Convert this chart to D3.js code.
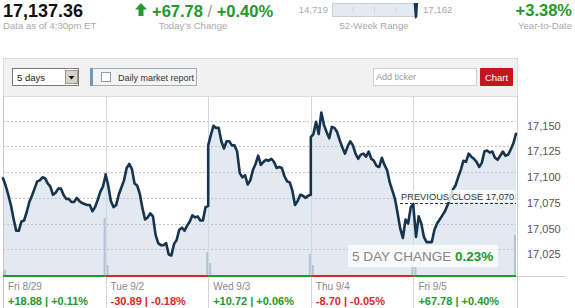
<!DOCTYPE html>
<html>
<head>
<meta charset="utf-8">
<script src="https://cdn.jsdelivr.net/npm/d3@7"></script>
<style>
  body { margin: 0; background: #fff; }
  svg text { font-family: "Liberation Sans", Arial, sans-serif; }
</style>
</head>
<body>
<div id="chart"></div>
<script>
// ---- data ----
const days = ["Fri 8/29", "Tue 9/2", "Wed 9/3", "Thu 9/4", "Fri 9/5"];
const dayChange = [18.88, -30.89, 10.72, -8.70, 67.78];
const dayPct = [0.11, -0.18, 0.06, -0.05, 0.40];

// index level, 10-minute steps through each session
const day1 = [17094,17087,17078,17068,17055,17043,17043,17052,17053,17061,17071,17077,17084,17091,17092,17095,17094,17089,17086,17078,
              17080,17084,17084,17078,17074,17074,17071,17071,17075,17072,17070,17069,17068,17068,17062,17066,17073,17081,17086,17097];
const day2 = [17098,17087,17072,17066,17068,17078,17085,17092,17104,17108,17103,17089,17087,17079,17065,17054,17056,17060,17057,17039,
              17031,17029,17029,17031,17020,17019,17030,17034,17044,17046,17043,17048,17052,17058,17056,17057,17053,17053,17066,17067];
const day3 = [17126,17136,17145,17143,17143,17130,17123,17130,17130,17126,17126,17120,17099,17095,17097,17088,17092,17102,17108,17116,
              17107,17110,17112,17111,17113,17110,17104,17105,17104,17096,17091,17090,17082,17068,17072,17078,17077,17075,17077,17078];
const day4 = [17134,17137,17149,17137,17158,17146,17139,17133,17144,17143,17139,17131,17124,17118,17125,17130,17126,17118,17113,17117,
              17118,17115,17120,17113,17111,17106,17105,17114,17107,17102,17090,17082,17074,17060,17045,17036,17054,17050,17066,17069];
const day5 = [17066,17037,17057,17050,17037,17032,17032,17032,17044,17050,17054,17058,17062,17068,17075,17083,17087,17095,17102,17111,
              17110,17118,17115,17113,17110,17105,17109,17120,17121,17119,17120,17114,17112,17116,17120,17116,17117,17122,17128,17137.36];
const sessions = [day1, day2, day3, day4, day5];

// opening / closing bar volume (relative)
const openVolume = [5, 10, 12, 10, 8];
const closeVolume = [57, 23, 21, 10, 40];

const yTicks = [17025, 17050, 17075, 17100, 17125, 17150];
const previousClose = 17070;
const fiveDayChange = 0.23;

const lastPrice = 17137.36;
const todayChange = 67.78;
const todayPct = 0.40;
const weekLow = 14719, weekHigh = 17162;
const ytdPct = 3.38;

// ---- setup ----
const width = 575, height = 308;
const plotLeft = 3, plotRight = 516, plotTop = 96, plotBottom = 275;
const green = "#22992a", red = "#d9262b";

const svg = d3.select("#chart").append("svg")
    .attr("width", width)
    .attr("height", height);

// scales
const x = d3.scaleBand().domain(days).range([plotLeft, plotRight]).paddingInner(0).paddingOuter(0);
const y = d3.scaleLinear().domain([17000, 17175]).range([275, 95]);
const vol = d3.scaleLinear().domain([0, 60]).range([0, 60]);

// flatten sessions into points
const points = [];
sessions.forEach((vals, di) => {
    const xi = d3.scaleLinear().domain([0, vals.length - 1]).range([x(days[di]), x(days[di]) + x.bandwidth()]);
    vals.forEach((v, i) => points.push({x: xi(i), v: v}));
});

// ---- header ----
const head = svg.append("g");
head.append("text").attr("x", 3).attr("y", 17)
    .attr("font-size", 18).attr("font-weight", "bold").attr("fill", "#111")
    .text(d3.format(",.2f")(lastPrice));
head.append("text").attr("x", 3).attr("y", 29)
    .attr("font-size", 9.6).attr("fill", "#aaa")
    .text("Data as of 4:30pm ET");

head.append("path")
    .attr("d", "M135,9.5 L141,3 L147,9.5 L143.5,9.5 L143.5,16 L138.5,16 L138.5,9.5 Z")
    .attr("fill", green);
const chg = head.append("text").attr("x", 152).attr("y", 16.5).attr("font-size", 16.5);
chg.append("tspan").attr("font-weight", "bold").attr("fill", green).text("+" + todayChange.toFixed(2));
chg.append("tspan").attr("fill", "#999").text(" / ");
chg.append("tspan").attr("font-weight", "bold").attr("fill", green).text("+" + todayPct.toFixed(2) + "%");
head.append("text").attr("x", 193).attr("y", 29).attr("text-anchor", "middle")
    .attr("font-size", 9.6).attr("fill", "#aaa").text("Today\u2019s Change");

// 52-week range
const wk = d3.scaleLinear().domain([weekLow, weekHigh]).range([332, 417]);
head.append("text").attr("x", 328).attr("y", 13).attr("text-anchor", "end")
    .attr("font-size", 9.6).attr("fill", "#aaa").text(d3.format(",")(weekLow));
head.append("rect").attr("x", 332.5).attr("y", 3.5).attr("width", 85).attr("height", 13)
    .attr("fill", "#e4eaf1").attr("stroke", "#c9cfd6");
head.selectAll(".wtick").data([0.25, 0.5, 0.75]).join("line")
    .attr("x1", d => 332 + d * 85).attr("x2", d => 332 + d * 85)
    .attr("y1", 7).attr("y2", 13).attr("stroke", "#cdd3da");
const mx = wk(lastPrice);
head.append("path")
    .attr("d", `M${mx - 2.5},3 L${mx + 2},3 L${mx + 1},17 L${mx - 0.5},19 L${mx - 1.5},17 Z`)
    .attr("fill", "#14385a");
head.append("text").attr("x", 423).attr("y", 13)
    .attr("font-size", 9.6).attr("fill", "#aaa").text(d3.format(",")(weekHigh));
head.append("text").attr("x", 374).attr("y", 29).attr("text-anchor", "middle")
    .attr("font-size", 9.6).attr("fill", "#aaa").text("52-Week Range");

head.append("text").attr("x", 572).attr("y", 16).attr("text-anchor", "end")
    .attr("font-size", 16.5).attr("font-weight", "bold").attr("fill", green)
    .text("+" + ytdPct.toFixed(2) + "%");
head.append("text").attr("x", 572).attr("y", 29).attr("text-anchor", "end")
    .attr("font-size", 9.6).attr("fill", "#aaa").text("Year-to-Date");

// ---- controls bar ----
const ctl = svg.append("g");
ctl.append("rect").attr("x", 3.5).attr("y", 58.5).attr("width", 514).attr("height", 38)
    .attr("fill", "#f1f1f1").attr("stroke", "#dcdcdc");
ctl.append("rect").attr("x", 12.5).attr("y", 68.5).attr("width", 66).attr("height", 17)
    .attr("fill", "#fff").attr("stroke", "#7a7a7a");
ctl.append("rect").attr("x", 65.5).attr("y", 70.5).attr("width", 12).attr("height", 13)
    .attr("fill", "#d6d3cc").attr("stroke", "#999");
ctl.append("path").attr("d", "M68.5,76 L74.5,76 L71.5,79.5 Z").attr("fill", "#111");
ctl.append("text").attr("x", 17).attr("y", 80.5).attr("font-size", 9.5).attr("fill", "#222").text("5 days");

ctl.append("rect").attr("x", 90.5).attr("y", 68.5).attr("width", 106).attr("height", 17)
    .attr("fill", "#f4f4f4").attr("stroke", "#9db0c0");
ctl.append("rect").attr("x", 90).attr("y", 68).attr("width", 3).attr("height", 18).attr("fill", "#6b9cc4");
ctl.append("rect").attr("x", 101.5).attr("y", 72.5).attr("width", 9).attr("height", 9)
    .attr("fill", "#fff").attr("stroke", "#999");
ctl.append("text").attr("x", 118).attr("y", 80.5).attr("font-size", 9).attr("fill", "#333").text("Daily market report");

ctl.append("rect").attr("x", 373.5).attr("y", 68.5).attr("width", 103).attr("height", 17)
    .attr("fill", "#fff").attr("stroke", "#cfcfcf");
ctl.append("text").attr("x", 376).attr("y", 80).attr("font-size", 9).attr("fill", "#999").text("Add ticker");
ctl.append("rect").attr("x", 480).attr("y", 68).attr("width", 33).attr("height", 18).attr("rx", 1)
    .attr("fill", "#c4161c");
ctl.append("text").attr("x", 496.5).attr("y", 80.5).attr("text-anchor", "middle")
    .attr("font-size", 9.5).attr("fill", "#fff").text("Chart");

// ---- plot ----
const plot = svg.append("g");

const area = d3.area().x(d => d.x).y0(y(17000)).y1(d => y(d.v));
plot.append("path").datum(points).attr("d", area).attr("fill", "#e3e9f0");

// gridlines
plot.selectAll(".grid").data(yTicks).join("line")
    .attr("x1", plotLeft).attr("x2", plotRight)
    .attr("y1", d => Math.round(y(d)) + 0.5).attr("y2", d => Math.round(y(d)) + 0.5)
    .attr("stroke", "#c4c4c4").attr("stroke-dasharray", "2,2");

// volume spikes at open / close
days.forEach((d, i) => {
    plot.append("rect").attr("x", x(d) + 1).attr("width", 2)
        .attr("y", plotBottom - vol(openVolume[i])).attr("height", vol(openVolume[i]))
        .attr("fill", "#b3c3d3");
    plot.append("rect").attr("x", x(d) + x.bandwidth() - 2).attr("width", 2)
        .attr("y", plotBottom - vol(closeVolume[i])).attr("height", vol(closeVolume[i]))
        .attr("fill", "#b3c3d3");
});

// day separators and borders
plot.selectAll(".sep").data(days.slice(1)).join("line")
    .attr("x1", d => Math.round(x(d)) + 0.5).attr("x2", d => Math.round(x(d)) + 0.5)
    .attr("y1", plotTop).attr("y2", height)
    .attr("stroke", "#cfd8e1");
plot.append("line").attr("x1", plotLeft + 0.5).attr("x2", plotLeft + 0.5)
    .attr("y1", plotTop).attr("y2", height).attr("stroke", "#c8c8c8");
plot.append("line").attr("x1", plotRight + 1.5).attr("x2", plotRight + 1.5)
    .attr("y1", plotTop).attr("y2", height).attr("stroke", "#d0d0d0");

// price line
const line = d3.line().x(d => d.x).y(d => y(d.v)).curve(d3.curveLinear);
plot.append("path").datum(points).attr("d", line)
    .attr("fill", "none").attr("stroke", "#17344f").attr("stroke-width", 2.6)
    .attr("stroke-linejoin", "round").attr("stroke-linecap", "round");

// coloured day strip along the bottom
plot.append("line").attr("x1", plotRight).attr("x2", 566)
    .attr("y1", plotBottom + 1.5).attr("y2", plotBottom + 1.5).attr("stroke", "#cfcfcf");
plot.selectAll(".strip").data(days).join("rect")
    .attr("x", d => x(d)).attr("width", x.bandwidth())
    .attr("y", plotBottom).attr("height", 2)
    .attr("fill", (d, i) => dayChange[i] >= 0 ? green : red);

// y axis on the right
const yAxis = svg.append("g")
    .attr("transform", `translate(524,5)`)
    .call(d3.axisRight(y).tickValues(yTicks).tickSize(0).tickPadding(3).tickFormat(d3.format(",")));
yAxis.select(".domain").remove();
yAxis.selectAll("text").attr("font-size", 11).attr("fill", "#555")
    .attr("font-family", "\"Liberation Sans\", Arial, sans-serif");

// previous close marker
const pcY = Math.round(y(previousClose)) + 0.5;
plot.append("line").attr("x1", 400).attr("x2", plotRight).attr("y1", pcY).attr("y2", pcY)
    .attr("stroke", "#333").attr("stroke-dasharray", "3,2");
plot.append("rect").attr("x", 398).attr("y", 190).attr("width", 117).attr("height", 12)
    .attr("fill", "#fff").attr("fill-opacity", 0.8);
plot.append("text").attr("x", 401).attr("y", 199.5).attr("font-size", 9.3).attr("fill", "#333")
    .text("PREVIOUS CLOSE " + d3.format(",")(previousClose));

// 5 day change label
plot.append("rect").attr("x", 348).attr("y", 245).attr("width", 150).attr("height", 22)
    .attr("fill", "#fff").attr("fill-opacity", 0.75);
const fdc = plot.append("text").attr("x", 352).attr("y", 260.5).attr("font-size", 13.5);
fdc.append("tspan").attr("fill", "#858585").text("5 DAY CHANGE ");
fdc.append("tspan").attr("fill", green).attr("font-weight", "bold").text(fiveDayChange.toFixed(2) + "%");

// day labels
const fmt = v => (v >= 0 ? "+" : "") + v.toFixed(2);
days.forEach((d, i) => {
    svg.append("text").attr("x", x(d) + 5).attr("y", 290)
        .attr("font-size", 10).attr("fill", "#888").text(d);
    svg.append("text").attr("x", x(d) + 5).attr("y", 305)
        .attr("font-size", 11).attr("font-weight", "bold")
        .attr("fill", dayChange[i] >= 0 ? green : red)
        .text(fmt(dayChange[i]) + " | " + fmt(dayPct[i]) + "%");
});
</script>
</body>
</html>
